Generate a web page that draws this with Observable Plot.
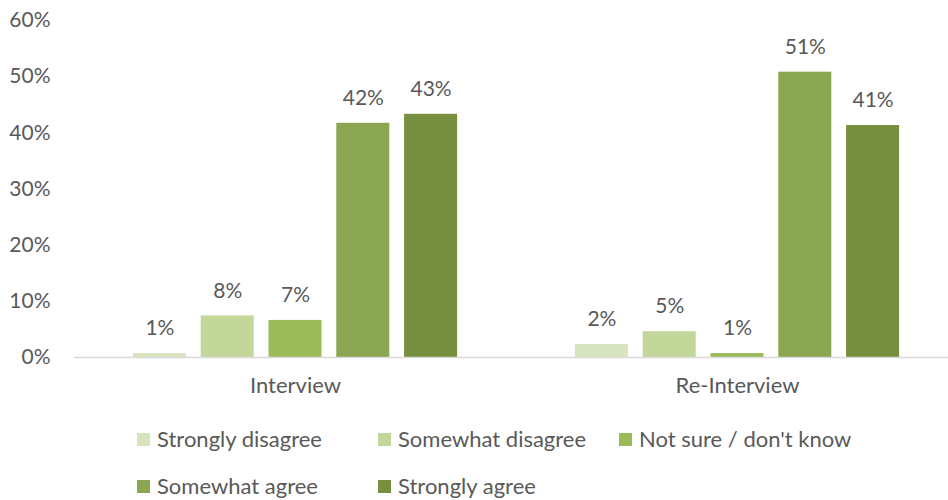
<!DOCTYPE html>
<html>
<head>
<meta charset="utf-8">
<script src="https://cdn.jsdelivr.net/npm/d3@7"></script>
<script src="https://cdn.jsdelivr.net/npm/@observablehq/plot@0.6"></script>
<style>
  html, body { margin: 0; padding: 0; background: #fff; overflow: hidden; }
  body { width: 948px; font-family: Lato, "Open Sans", sans-serif; color: #595959; }
  #legend { display: grid; grid-template-columns: 241px 241px 241px; row-gap: 17px; margin-left: 137px; margin-top: 14px; }
  .item { display: flex; align-items: center; font-size: 22px; line-height: 30px; white-space: nowrap; }
  .sw { width: 13px; height: 13px; margin-right: 7px; flex: none; }
</style>
</head>
<body>
<div id="chart"></div>
<div id="legend"></div>
<script>
const groups = ["Interview", "Re-Interview"];
const categories = ["Strongly disagree", "Somewhat disagree", "Not sure / don't know", "Somewhat agree", "Strongly agree"];
const interviewValues = [0.007, 0.074, 0.066, 0.417, 0.433];
const reinterviewValues = [0.023, 0.046, 0.007, 0.508, 0.413];
const interviewLabels = ["1%", "8%", "7%", "42%", "43%"];
const reinterviewLabels = ["2%", "5%", "1%", "51%", "41%"];
const colors = ["#d8e4bd", "#c4d79b", "#9bbb59", "#8aa650", "#76903f"];
const yTicks = [0, 0.1, 0.2, 0.3, 0.4, 0.5, 0.6];

const data = [];
categories.forEach((c, i) => {
  data.push({group: groups[0], category: c, value: interviewValues[i], label: interviewLabels[i]});
  data.push({group: groups[1], category: c, value: reinterviewValues[i], label: reinterviewLabels[i]});
});

const chart = Plot.plot({
  width: 948,
  height: 410,
  marginLeft: 74,
  marginRight: 0,
  marginTop: 20,
  marginBottom: 53,
  style: {fontFamily: "Lato, 'Open Sans', sans-serif", fontSize: "21px", color: "#595959", background: "#fff"},
  fx: {domain: groups, range: [74, 958], paddingInner: 0, paddingOuter: 0, round: false, label: null},
  x: {domain: categories, paddingInner: 0.218, paddingOuter: 0.869, round: false, axis: null},
  y: {domain: [0, 0.6], label: null},
  color: {domain: categories, range: colors},
  marks: [
    Plot.axisY({ticks: yTicks, tickFormat: d3.format(".0%"), tickSize: 0, tickPadding: 24, label: null, fill: "#595959", fontSize: 21}),
    Plot.axisFx({anchor: "bottom", tickSize: 0, tickPadding: 20, label: null, fill: "#595959", fontSize: 22}),
    Plot.barY(data, {fx: "group", x: "category", y: "value", fill: "category"}),
    Plot.ruleY([0], {stroke: "#d9d9d9", strokeWidth: 1.5}),
    Plot.text(data, {fx: "group", x: "category", y: "value", text: "label", dy: -25, fill: "#595959", fontSize: 21})
  ]
});
document.getElementById("chart").appendChild(chart);

const legend = document.getElementById("legend");
categories.forEach((c, i) => {
  const item = document.createElement("div");
  item.className = "item";
  const sw = document.createElement("span");
  sw.className = "sw";
  sw.style.background = colors[i];
  const t = document.createElement("span");
  t.textContent = c;
  item.appendChild(sw);
  item.appendChild(t);
  legend.appendChild(item);
});
</script>
</body>
</html>
